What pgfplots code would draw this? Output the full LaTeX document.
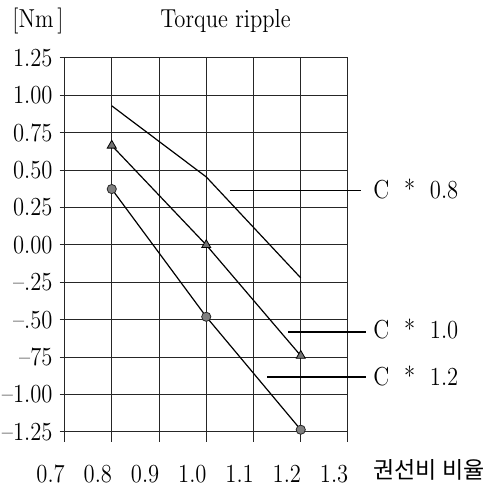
\documentclass[border=0pt]{standalone}
\usepackage{fontspec}
\usepackage{pgfplots}
\pgfplotsset{compat=1.18}
\newfontfamily\kr{Noto Sans CJK KR}
\newlength\px
\setlength\px{0.5pt}
\begin{document}
\begin{tikzpicture}
\useasboundingbox (-59.5\px,-43\px) rectangle (437.5\px,442\px);
\begin{axis}[
  at={(0,0)}, anchor=south west,
  scale only axis,
  width=288.5\px, height=384\px,
  xmin=0.6894, xmax=1.3,
  ymin=-1.317, ymax=1.25,
  axis line style={draw=none},
  tick style={draw=none},
  grid=major,
  grid style={black!85, line width=0.5pt},
  xtick={0.7,0.8,0.9,1.0,1.1,1.2,1.3},
  xticklabels={{0.7\hspace{12pt}},0.8,0.9,1.0,1.1,1.2,1.3},
  ytick={-1.25,-1,-0.75,-0.5,-0.25,0,0.25,0.5,0.75,1,1.25},
  yticklabels={--1.25,--1.00,--75,--.50,--.25,0.00,0.25,0.50,0.75,1.00,1.25},
  tick label style={font=\fontsize{13}{15}\selectfont, xscale=0.87},
  xticklabel style={xshift=-8pt, yshift=-8pt},
  yticklabel style={xshift=-0.5pt},
  clip=false,
]
% C * 0.8
\addplot[black, line width=0.6pt, mark=none] coordinates {(0.8,0.93) (1.0,0.455) (1.2,-0.22)};
% C * 1.0
\addplot[black, line width=0.6pt, mark=triangle*, mark size=2.6pt,
  mark options={fill=black!55, draw=black, line width=0.4pt}] coordinates {(0.8,0.665) (1.0,0.0) (1.2,-0.74)};
% C * 1.2
\addplot[black, line width=0.6pt, mark=*, mark size=2.3pt,
  mark options={fill=black!50, draw=black!85, line width=0.4pt}] coordinates {(0.8,0.374) (1.0,-0.48) (1.2,-1.235)};
% leader lines
\draw[black, line width=0.6pt] (axis cs:1.050,0.363) -- (axis cs:1.3275,0.363);
\draw[black, line width=0.6pt] (axis cs:1.173,-0.582) -- (axis cs:1.338,-0.582);
\draw[black, line width=0.6pt] (axis cs:1.129,-0.882) -- (axis cs:1.338,-0.882);
\node[anchor=west, inner sep=0, font=\fontsize{13}{15}\selectfont, xscale=0.87] at (axis cs:1.353,0.375) {C\ \ *\ \ 0.8};
\node[anchor=west, inner sep=0, font=\fontsize{13}{15}\selectfont, xscale=0.87] at (axis cs:1.353,-0.565) {C\ \ *\ \ 1.0};
\node[anchor=west, inner sep=0, font=\fontsize{13}{15}\selectfont, xscale=0.87] at (axis cs:1.353,-0.875) {C\ \ *\ \ 1.2};
% titles
\node[anchor=base west, inner sep=0, font=\fontsize{13}{15}\selectfont, xscale=0.87] at (axis cs:0.589,1.4505) {[Nm\,]};
\node[anchor=base west, inner sep=0, font=\fontsize{13}{15}\selectfont, xscale=0.87] at (axis cs:0.902,1.4505) {Torque ripple};
\node[anchor=base west, inner sep=0, font=\fontsize{11.5}{13}\selectfont\kr] at (axis cs:1.353,-1.56) {권선비 비율};
\end{axis}
\end{tikzpicture}
\end{document}
